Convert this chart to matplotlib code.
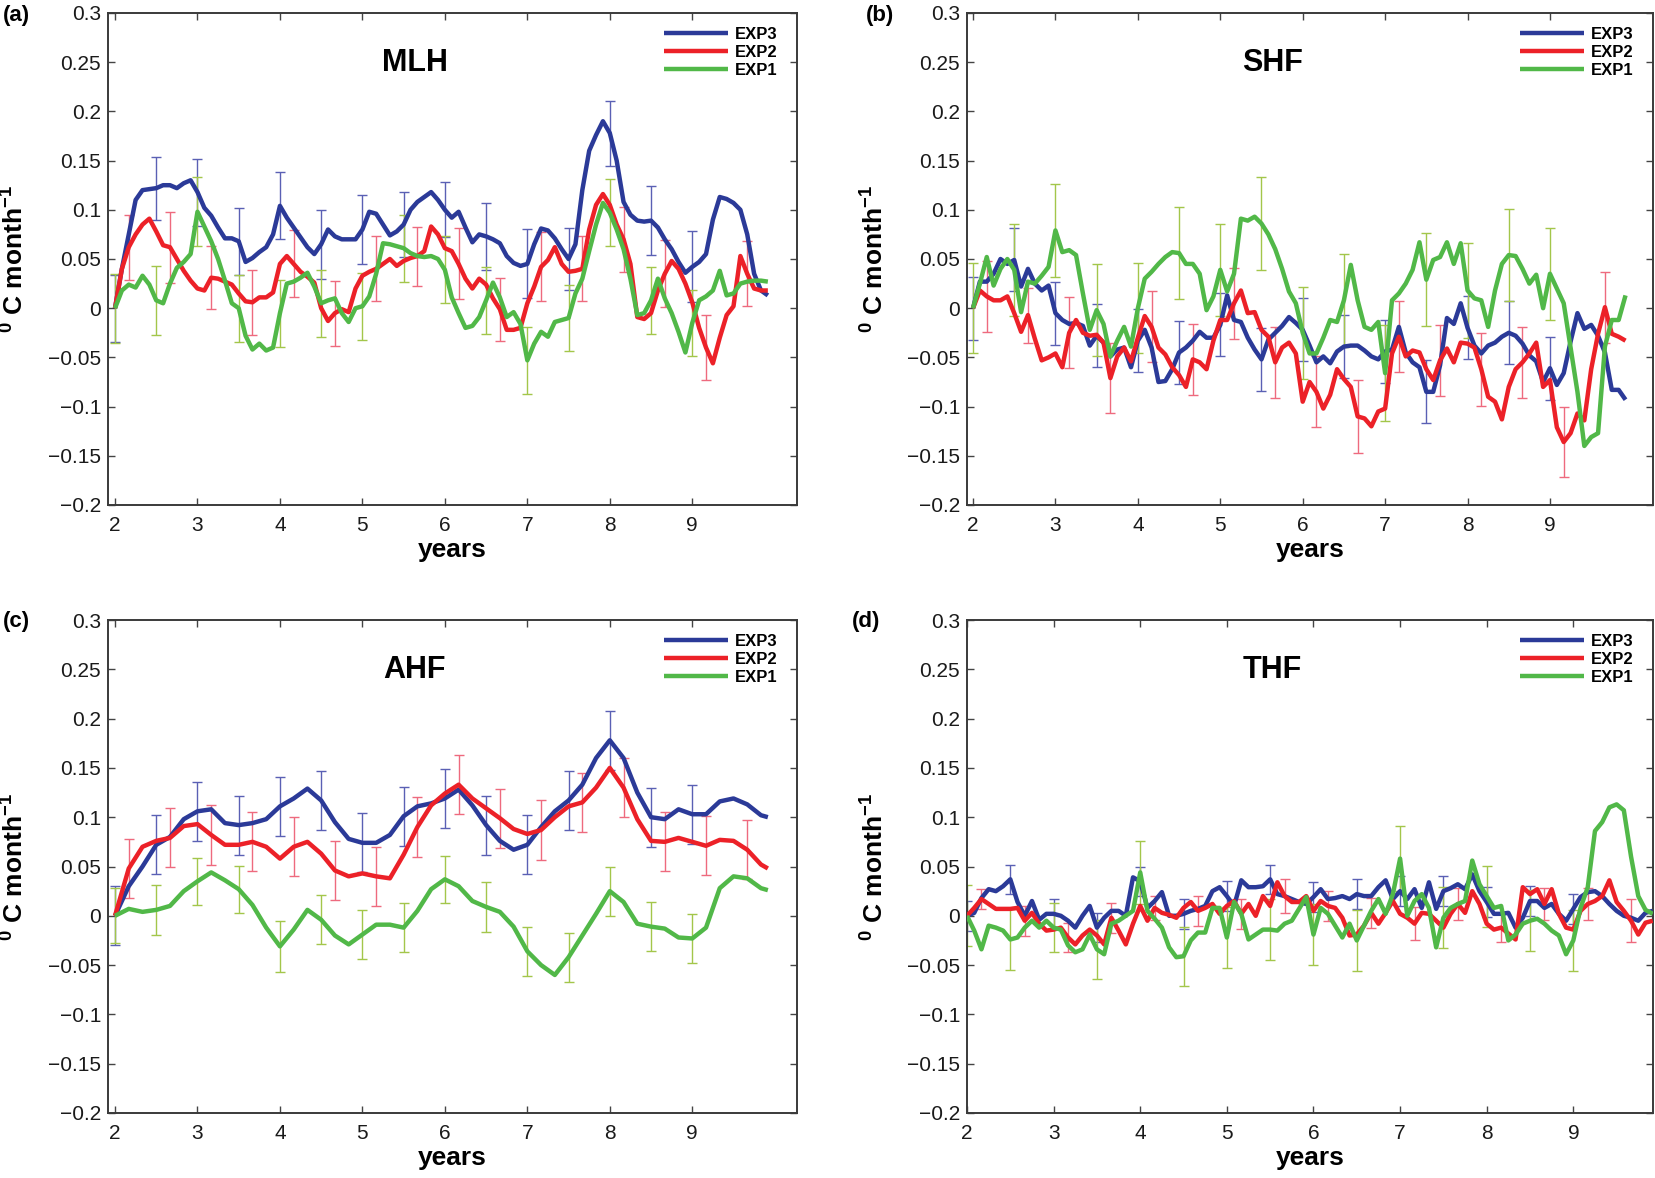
import numpy as np
import matplotlib
matplotlib.use('Agg')
import matplotlib.pyplot as plt

plt.rcParams['font.family'] = ['Liberation Sans', 'DejaVu Sans']
plt.rcParams['mathtext.fontset'] = 'custom'
plt.rcParams['mathtext.rm'] = 'Liberation Sans'
plt.rcParams['mathtext.bf'] = 'Liberation Sans:bold'
plt.rcParams['mathtext.it'] = 'Liberation Sans:italic'

# ---------------- data ----------------
months_monthly = list(range(96))                     # monthly samples
months_bimonthly = list(range(0, 96, 2)) + [95]      # every 2nd month (+ last)
years_m = 2 + np.array(months_monthly) / 12.0
years_b = 2 + np.array(months_bimonthly) / 12.0

panel_letters = ['(a)', '(b)', '(c)', '(d)']
panel_titles = ['MLH', 'SHF', 'AHF', 'THF']
series_names = ['EXP3', 'EXP2', 'EXP1']
xticks = [2, 3, 4, 5, 6, 7, 8, 9]
xtick_labels = ['2', '3', '4', '5', '6', '7', '8', '9']
yticks = [-0.2, -0.15, -0.1, -0.05, 0, 0.05, 0.1, 0.15, 0.2, 0.25, 0.3]
ytick_labels = ['\u22120.2', '\u22120.15', '\u22120.1', '\u22120.05', '0',
                '0.05', '0.1', '0.15', '0.2', '0.25', '0.3']

# (a) MLH  (monthly)
mlh_exp3 = [0.000, 0.040, 0.075, 0.110, 0.120, 0.121, 0.122, 0.125, 0.125, 0.122,
            0.127, 0.130, 0.118, 0.102, 0.094, 0.082, 0.071, 0.071, 0.068, 0.047,
            0.051, 0.057, 0.062, 0.075, 0.104, 0.092, 0.082, 0.072, 0.062, 0.055,
            0.065, 0.080, 0.073, 0.070, 0.070, 0.070, 0.080, 0.098, 0.096, 0.085,
            0.074, 0.078, 0.085, 0.100, 0.108, 0.113, 0.118, 0.110, 0.100, 0.092,
            0.098, 0.082, 0.067, 0.075, 0.073, 0.070, 0.066, 0.053, 0.046, 0.043,
            0.045, 0.065, 0.081, 0.079, 0.071, 0.060, 0.050, 0.065, 0.120, 0.160,
            0.176, 0.190, 0.178, 0.150, 0.108, 0.095, 0.089, 0.088, 0.089, 0.082,
            0.070, 0.060, 0.047, 0.036, 0.042, 0.047, 0.055, 0.090, 0.113, 0.111,
            0.107, 0.100, 0.075, 0.035, 0.018, 0.013]
mlh_exp2 = [0.000, 0.040, 0.062, 0.075, 0.085, 0.091, 0.078, 0.064, 0.062, 0.050,
            0.038, 0.028, 0.020, 0.018, 0.031, 0.030, 0.027, 0.024, 0.015, 0.007,
            0.006, 0.011, 0.011, 0.016, 0.045, 0.053, 0.045, 0.037, 0.032, 0.026,
            0.000, -0.013, -0.005, -0.001, -0.004, 0.020, 0.033, 0.037, 0.040, 0.045,
            0.050, 0.043, 0.048, 0.051, 0.053, 0.058, 0.083, 0.075, 0.061, 0.058,
            0.045, 0.030, 0.020, 0.030, 0.024, 0.010, -0.001, -0.022, -0.022, -0.020,
            0.005, 0.022, 0.042, 0.049, 0.062, 0.045, 0.037, 0.038, 0.040, 0.080,
            0.105, 0.116, 0.105, 0.085, 0.070, 0.045, -0.009, -0.011, -0.005, 0.018,
            0.035, 0.048, 0.040, 0.025, 0.006, -0.020, -0.040, -0.056, -0.030, -0.007,
            0.002, 0.053, 0.035, 0.020, 0.018, 0.018]
mlh_exp1 = [0.000, 0.018, 0.024, 0.021, 0.033, 0.024, 0.008, 0.005, 0.025, 0.041,
            0.047, 0.055, 0.098, 0.083, 0.068, 0.050, 0.028, 0.005, 0.000, -0.028,
            -0.042, -0.036, -0.043, -0.040, -0.005, 0.025, 0.027, 0.031, 0.036, 0.022,
            0.005, 0.008, 0.010, -0.005, -0.014, 0.000, 0.002, 0.012, 0.035, 0.066,
            0.065, 0.063, 0.061, 0.056, 0.053, 0.052, 0.053, 0.050, 0.039, 0.011,
            -0.005, -0.020, -0.018, -0.009, 0.008, 0.026, 0.011, -0.009, -0.004, -0.016,
            -0.053, -0.036, -0.024, -0.029, -0.014, -0.012, -0.010, 0.015, 0.030, 0.058,
            0.085, 0.107, 0.097, 0.080, 0.060, 0.030, -0.007, -0.005, 0.008, 0.030,
            0.010, -0.005, -0.024, -0.045, -0.015, 0.008, 0.012, 0.018, 0.038, 0.013,
            0.015, 0.025, 0.027, 0.028, 0.028, 0.027]
mlh_err3 = [0.034, 0.032, 0.034, 0.034, 0.034, 0.035, 0.035, 0.033, 0.028, 0.034,
            0.035, 0.032, 0.033, 0.035, 0.036]
mlh_err2 = [0.033, 0.036, 0.032, 0.033, 0.034, 0.033, 0.033, 0.030, 0.036, 0.032,
            0.035, 0.033, 0.033, 0.034, 0.033, 0.033]
mlh_err1 = [0.035, 0.035, 0.035, 0.034, 0.034, 0.034, 0.034, 0.034, 0.034, 0.034,
            0.034, 0.034, 0.034, 0.034, 0.034]

# (b) SHF  (monthly)
shf_exp3 = [0.000, 0.027, 0.027, 0.035, 0.050, 0.045, 0.049, 0.022, 0.040, 0.025,
            0.018, 0.023, -0.005, -0.012, -0.016, -0.015, -0.018, -0.038, -0.028, -0.035,
            -0.049, -0.042, -0.040, -0.060, -0.033, -0.022, -0.040, -0.075, -0.074, -0.062,
            -0.045, -0.040, -0.033, -0.024, -0.030, -0.030, -0.017, 0.013, -0.012, -0.014,
            -0.030, -0.042, -0.052, -0.032, -0.025, -0.018, -0.009, -0.015, -0.022, -0.038,
            -0.055, -0.049, -0.056, -0.044, -0.039, -0.038, -0.038, -0.043, -0.049, -0.052,
            -0.044, -0.042, -0.019, -0.045, -0.055, -0.060, -0.085, -0.085, -0.058, -0.010,
            -0.016, 0.005, -0.020, -0.038, -0.046, -0.038, -0.035, -0.029, -0.025, -0.028,
            -0.036, -0.048, -0.054, -0.075, -0.061, -0.078, -0.066, -0.034, -0.005, -0.021,
            -0.017, -0.028, -0.045, -0.083, -0.083, -0.093]
shf_exp2 = [0.000, 0.018, 0.012, 0.008, 0.008, 0.012, -0.005, -0.024, -0.007, -0.031,
            -0.053, -0.050, -0.046, -0.060, -0.025, -0.012, -0.025, -0.028, -0.027, -0.035,
            -0.071, -0.049, -0.040, -0.054, -0.030, -0.008, -0.019, -0.040, -0.047, -0.060,
            -0.068, -0.080, -0.052, -0.055, -0.062, -0.033, -0.012, -0.012, 0.005, 0.018,
            -0.005, -0.004, -0.022, -0.029, -0.055, -0.040, -0.035, -0.046, -0.095, -0.075,
            -0.085, -0.102, -0.088, -0.062, -0.072, -0.080, -0.110, -0.112, -0.120, -0.105,
            -0.102, -0.046, -0.029, -0.049, -0.043, -0.045, -0.062, -0.073, -0.053, -0.041,
            -0.055, -0.035, -0.036, -0.040, -0.062, -0.090, -0.095, -0.113, -0.080, -0.062,
            -0.055, -0.046, -0.035, -0.080, -0.073, -0.121, -0.136, -0.127, -0.107, -0.114,
            -0.062, -0.026, 0.001, -0.026, -0.029, -0.033]
shf_exp1 = [0.000, 0.025, 0.052, 0.023, 0.040, 0.050, 0.039, -0.004, 0.027, 0.025,
            0.033, 0.042, 0.079, 0.057, 0.059, 0.054, 0.015, -0.022, -0.002, -0.016,
            -0.049, -0.033, -0.019, -0.039, 0.000, 0.030, 0.037, 0.045, 0.052, 0.057,
            0.056, 0.045, 0.045, 0.035, -0.002, 0.012, 0.039, 0.017, 0.035, 0.091,
            0.089, 0.093, 0.086, 0.075, 0.060, 0.040, 0.017, 0.005, -0.025, -0.046,
            -0.046, -0.030, -0.012, -0.014, 0.008, 0.044, 0.008, -0.019, -0.022, -0.014,
            -0.066, 0.008, 0.015, 0.025, 0.039, 0.067, 0.029, 0.049, 0.052, 0.067,
            0.045, 0.066, 0.018, 0.010, 0.008, -0.019, 0.018, 0.045, 0.054, 0.053,
            0.040, 0.025, 0.034, 0.000, 0.035, 0.020, 0.005, -0.040, -0.085, -0.140,
            -0.131, -0.127, -0.039, -0.012, -0.012, 0.013]
shf_err3 = [0.032] * 15
shf_err2 = [0.036, 0.028, 0.036, 0.036, 0.036, 0.036, 0.036, 0.036, 0.036, 0.037,
            0.036, 0.036, 0.037, 0.036, 0.036, 0.036]
shf_err1 = [0.046, 0.047, 0.047, 0.047, 0.046, 0.047, 0.047, 0.047, 0.047, 0.047,
            0.049, 0.047, 0.048, 0.047, 0.047]

# (c) AHF  (every 2nd month)
ahf_exp3 = [0.000, 0.030, 0.050, 0.072, 0.080, 0.098, 0.106, 0.108, 0.094, 0.092,
            0.094, 0.098, 0.111, 0.119, 0.129, 0.117, 0.095, 0.078, 0.074, 0.074,
            0.082, 0.101, 0.111, 0.114, 0.119, 0.128, 0.112, 0.092, 0.076, 0.067,
            0.072, 0.090, 0.106, 0.117, 0.133, 0.160, 0.178, 0.160, 0.125, 0.100,
            0.098, 0.108, 0.103, 0.103, 0.116, 0.119, 0.113, 0.102, 0.100]
ahf_exp2 = [0.000, 0.048, 0.070, 0.076, 0.079, 0.091, 0.093, 0.082, 0.072, 0.072,
            0.075, 0.070, 0.058, 0.070, 0.075, 0.063, 0.046, 0.040, 0.043, 0.040,
            0.038, 0.062, 0.090, 0.112, 0.124, 0.133, 0.119, 0.109, 0.099, 0.088,
            0.083, 0.087, 0.100, 0.111, 0.115, 0.130, 0.150, 0.130, 0.098, 0.076,
            0.075, 0.079, 0.075, 0.071, 0.077, 0.076, 0.067, 0.052, 0.048]
ahf_exp1 = [0.000, 0.007, 0.004, 0.006, 0.010, 0.025, 0.035, 0.044, 0.036, 0.027,
            0.011, -0.012, -0.031, -0.014, 0.006, -0.004, -0.020, -0.029, -0.019, -0.009,
            -0.009, -0.012, 0.005, 0.027, 0.037, 0.030, 0.015, 0.009, 0.004, -0.011,
            -0.036, -0.050, -0.060, -0.042, -0.020, 0.002, 0.025, 0.014, -0.008, -0.011,
            -0.013, -0.022, -0.023, -0.012, 0.028, 0.040, 0.038, 0.028, 0.026]
ahf_err3 = [0.030] * 15
ahf_err2 = [0.030] * 16
ahf_err1 = [0.028, 0.025, 0.024, 0.024, 0.026, 0.025, 0.025, 0.025, 0.024, 0.025,
            0.025, 0.025, 0.025, 0.025, 0.025]

# (d) THF  (monthly)
thf_exp3 = [0.000, 0.003, 0.018, 0.027, 0.025, 0.030, 0.037, 0.014, 0.000, 0.015,
            -0.004, 0.002, 0.002, 0.000, -0.005, -0.012, 0.000, 0.010, -0.012, -0.002,
            0.005, 0.005, 0.000, 0.039, 0.035, 0.008, 0.015, 0.024, 0.000, 0.000,
            0.002, 0.005, 0.007, 0.010, 0.025, 0.029, 0.020, 0.010, 0.036, 0.029,
            0.029, 0.030, 0.037, 0.022, 0.020, 0.017, 0.014, 0.012, 0.019, 0.027,
            0.017, 0.018, 0.020, 0.017, 0.022, 0.020, 0.020, 0.029, 0.036, 0.017,
            0.025, 0.017, 0.027, 0.008, 0.034, 0.007, 0.025, 0.028, 0.032, 0.027,
            0.042, 0.025, 0.014, 0.002, 0.002, 0.003, -0.012, -0.002, 0.015, 0.015,
            0.008, 0.012, 0.002, -0.005, 0.007, 0.019, 0.024, 0.025, 0.020, 0.012,
            0.005, 0.000, -0.002, -0.005, 0.003, 0.005]
thf_exp2 = [0.000, 0.008, 0.017, 0.012, 0.007, 0.007, 0.007, 0.008, -0.005, 0.003,
            -0.008, -0.015, -0.014, -0.012, -0.022, -0.029, -0.020, -0.014, -0.020, -0.029,
            -0.002, -0.015, -0.029, -0.008, 0.010, -0.005, 0.008, 0.003, 0.001, -0.002,
            0.008, 0.014, 0.005, 0.008, 0.012, 0.002, 0.010, 0.015, 0.002, 0.012,
            0.000, 0.020, 0.010, 0.034, 0.020, 0.014, 0.014, 0.020, 0.005, 0.015,
            0.010, 0.008, -0.002, -0.020, -0.019, -0.010, 0.003, -0.008, 0.003, 0.015,
            0.002, -0.002, -0.008, 0.003, 0.002, -0.005, -0.012, 0.002, 0.012, 0.003,
            0.025, 0.012, -0.008, -0.014, -0.012, -0.018, -0.024, 0.029, 0.022, 0.027,
            0.012, 0.027, 0.002, -0.012, -0.014, 0.005, 0.012, 0.015, 0.020, 0.036,
            0.014, 0.005, -0.005, -0.019, -0.007, -0.005]
thf_exp1 = [0.000, -0.015, -0.034, -0.010, -0.012, -0.015, -0.024, -0.022, -0.012, -0.005,
            -0.012, -0.005, -0.012, -0.014, -0.030, -0.037, -0.034, -0.019, -0.034, -0.039,
            -0.008, -0.005, 0.000, 0.005, 0.044, 0.005, -0.003, -0.012, -0.032, -0.042,
            -0.041, -0.025, -0.017, -0.017, 0.008, 0.008, -0.022, 0.014, 0.002, -0.024,
            -0.019, -0.014, -0.014, -0.015, -0.008, -0.005, 0.007, 0.019, -0.019, 0.008,
            0.002, -0.010, -0.022, -0.008, -0.025, -0.010, 0.005, 0.017, 0.002, 0.022,
            0.058, 0.000, 0.015, 0.022, 0.008, -0.032, -0.002, 0.008, 0.012, 0.015,
            0.056, 0.032, 0.020, 0.008, 0.010, -0.025, -0.019, -0.008, -0.005, -0.003,
            -0.008, -0.015, -0.020, -0.039, -0.025, 0.008, 0.029, 0.086, 0.095, 0.110,
            0.113, 0.107, 0.060, 0.020, 0.006, 0.002]
thf_err3 = [0.015] * 15
thf_err2 = [0.010, 0.015, 0.015, 0.015, 0.012, 0.015, 0.015, 0.017, 0.015, 0.015,
            0.017, 0.016, 0.015, 0.016, 0.016, 0.022]
thf_err1 = [0.031, 0.031, 0.025, 0.030, 0.032, 0.030, 0.031, 0.031, 0.031, 0.031,
            0.033, 0.031, 0.031, 0.031, 0.031]

panels = [
    (years_m, mlh_exp3, mlh_exp2, mlh_exp1, mlh_err3, mlh_err2, mlh_err1),
    (years_m, shf_exp3, shf_exp2, shf_exp1, shf_err3, shf_err2, shf_err1),
    (years_b, ahf_exp3, ahf_exp2, ahf_exp1, ahf_err3, ahf_err2, ahf_err1),
    (years_m, thf_exp3, thf_exp2, thf_exp1, thf_err3, thf_err2, thf_err1),
]

# ---------------- style ----------------
line_colors = ['#2b3a98', '#ec2128', '#51b848']
err_colors = ['#5a60b4', '#ee6a7e', '#a3c64a']
err_month_offset = [0, 2, 0]   # error bars every 6 months; EXP2 shifted by 2 months

W, H = 1655, 1178
fig = plt.figure(figsize=(W / 100, H / 100), dpi=100)

boxes = [(108, 13, 797, 505), (967, 13, 1653, 505),
         (108, 620, 797, 1113), (967, 620, 1653, 1113)]
xlims = [(1.915, 10.27), (1.927, 10.25), (1.915, 10.27), (2.0, 9.92)]
letter_pos = [(3, 15), (866, 15), (3, 622), (852, 622)]

for i, (l, t, r, b) in enumerate(boxes):
    ax = fig.add_axes([l / W, 1 - b / H, (r - l) / W, (b - t) / H])
    yr = np.asarray(panels[i][0])
    series = panels[i][1:4]
    errs = panels[i][4:7]
    mon = np.rint((yr - 2) * 12).astype(int)
    for s in range(3):
        y = np.asarray(series[s])
        wanted = err_month_offset[s] + 6 * np.arange(len(errs[s]))
        idx = np.array([np.where(mon == w)[0][0] for w in wanted])
        ax.errorbar(yr[idx], y[idx], yerr=np.asarray(errs[s]), fmt='none',
                    ecolor=err_colors[s], elinewidth=1.0, capsize=3.6,
                    capthick=1.0, zorder=2)
    handles = []
    for s in range(3):
        h, = ax.plot(yr, series[s], color=line_colors[s], lw=3.2,
                     solid_joinstyle='round', solid_capstyle='butt',
                     zorder=3 + s, label=series_names[s])
        handles.append(h)

    ax.set_xlim(*xlims[i])
    ax.set_ylim(-0.2, 0.3)
    ax.set_xticks(xticks)
    ax.set_xticklabels(xtick_labels)
    ax.set_yticks(yticks)
    ax.set_yticklabels(ytick_labels)
    ax.tick_params(direction='in', top=True, right=True, length=5, width=1.0,
                   color='#444444', labelsize=15, labelcolor='#1a1a1a')
    ax.tick_params(axis='x', pad=8)
    ax.tick_params(axis='y', pad=5)
    for sp in ax.spines.values():
        sp.set_color('#3a3a3a')
        sp.set_linewidth(1.4)

    ax.set_xlabel('years', fontsize=19, fontweight='bold', labelpad=2)
    ax.set_ylabel(r'$^{\mathbf{0}}$' + ' C month' + r'$^{\mathbf{-1}}$',
                  fontsize=19, fontweight='bold')
    ax.yaxis.set_label_coords(-0.115, 0.5)

    ax.text(0.445, 0.898, panel_titles[i], transform=ax.transAxes,
            fontsize=22, fontweight='bold', ha='center', va='center')

    ax.legend(handles=handles, loc='upper right',
              bbox_to_anchor=(0.972, 0.972), frameon=False,
              prop={'size': 12, 'weight': 'bold'},
              handlelength=3.8, handletextpad=0.45, labelspacing=0.18,
              borderpad=0, borderaxespad=0)

    lx, ly = letter_pos[i]
    fig.text(lx / W, 1 - ly / H, panel_letters[i], fontsize=16,
             fontweight='bold', ha='left', va='center')

fig.savefig('out.png', dpi=100)
